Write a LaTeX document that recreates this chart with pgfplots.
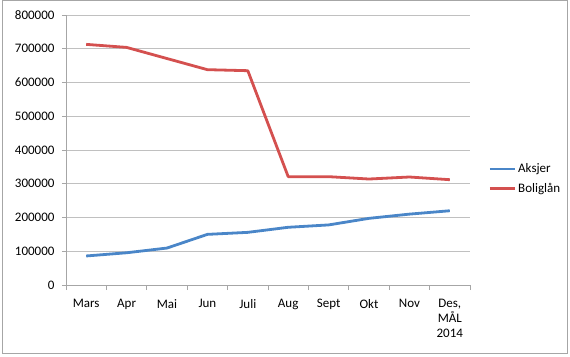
\documentclass[border=0pt]{standalone}
\usepackage{pgfplots}
\pgfplotsset{compat=1.18}
\usepackage{fontspec}
\setmainfont{Carlito}
\definecolor{blueL}{HTML}{4A86C8}
\definecolor{redL}{HTML}{D4504F}
\definecolor{gridC}{HTML}{C0C0C0}
\definecolor{axC}{HTML}{A6A6A6}
\begin{document}
\begin{tikzpicture}
\useasboundingbox (0pt,0pt) rectangle (570pt,356pt);
\draw[axC, line width=1pt] (2.5pt,3pt) rectangle (567.5pt,355pt);
\begin{axis}[
  at={(66pt,71pt)}, anchor=south west,
  scale only axis, width=404pt, height=270pt,
  xmin=-0.5, xmax=9.5, ymin=0, ymax=800000,
  axis x line*=bottom, axis y line*=left,
  axis line style={axC, line width=0.8pt, -},
  xtick={0,...,9},
  xticklabels={Mars,Apr,Mai,Jun,Juli,Aug,Sept,Okt,Nov,{Des,\\MÅL\\2014}},
  major x tick style={draw=none},
  minor xtick={-0.5,0.5,...,9.5},
  minor x tick style={axC, line width=0.8pt},
  minor tick length=5pt,
  ytick={0,100000,...,800000},
  major tick length=4pt,
  ytick style={axC, line width=0.8pt},
  tick align=outside,
  ymajorgrids, grid style={gridC, line width=0.9pt},
  scaled y ticks=false,
  yticklabel style={/pgf/number format/fixed, /pgf/number format/1000 sep={}, /pgf/number format/assume math mode=true, font=\fontsize{13}{15}\selectfont, xshift=-4pt},
  xticklabel style={align=center, font=\fontsize{13}{15}\selectfont, yshift=-7pt},
  legend style={at={(1.045,0.393)}, anchor=west, draw=none, fill=none, font=\fontsize{13}{15}\selectfont, row sep=5pt, inner sep=0pt},
  legend cell align=left,
  legend image code/.code={\draw[#1] (0pt,0pt) -- (25pt,0pt);},
]
\addplot[blueL, line width=2.8pt, line join=round] coordinates {
(0,86000) (1,95500) (2,109500) (3,150000) (4,156000) (5,171000) (6,178000) (7,197500) (8,210000) (9,220000)};
\addlegendentry{Aksjer}
\addplot[redL, line width=2.8pt, line join=round] coordinates {
(0,713000) (1,704000) (2,671000) (3,638000) (4,635000) (5,321000) (6,321000) (7,314000) (8,320000) (9,312000)};
\addlegendentry{Boliglån}
\end{axis}
\end{tikzpicture}
\end{document}
